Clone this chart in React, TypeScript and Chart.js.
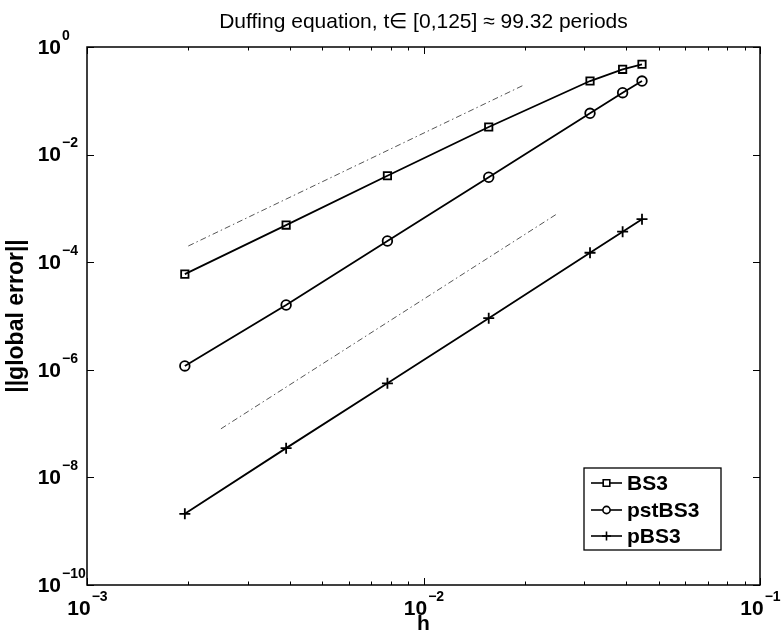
import { useEffect, useRef } from 'react';
import { Chart, registerables } from 'chart.js';

Chart.register(...registerables);

// ---- data ----
const stepSizes = [0.001953125, 0.00390625, 0.0078125, 0.015625, 0.03125, 0.0390625, 0.0446];
const bs3Errors = [6.0e-5, 4.9e-4, 4.05e-3, 3.26e-2, 0.233, 0.385, 0.477];
const pstBS3Errors = [1.18e-6, 1.6e-5, 2.48e-4, 3.79e-3, 5.86e-2, 0.1415, 0.233];
const pBS3Errors = [2.1e-9, 3.5e-8, 5.6e-7, 9.1e-6, 1.5e-4, 3.7e-4, 6.3e-4];
const refThirdH = [0.002, 0.02];
const refThirdErr = [2e-4, 0.2];
const refFourthH = [0.0025, 0.025];
const refFourthErr = [8e-8, 8e-4];
const seriesNames = ['BS3', 'pstBS3', 'pBS3'];
const xTickExponents = [-3, -2, -1];
const yTickExponents = [0, -2, -4, -6, -8, -10];
const titleText = 'Duffing equation, t\u2208 [0,125] \u2248 99.32 periods';
const xTitle = 'h';
const yTitle = '||global error||';

const FONT = '"Liberation Sans", Arial, Helvetica, sans-serif';

function pts(xs: number[], ys: number[]) {
  return xs.map((x, i) => ({ x, y: ys[i] }));
}

function expText(e: number) {
  return e < 0 ? '\u2212' + String(-e) : String(e);
}

function drawMarker(ctx: CanvasRenderingContext2D, style: string, x: number, y: number, s: number) {
  ctx.beginPath();
  if (style === 'rect') {
    ctx.rect(x - s, y - s, 2 * s, 2 * s);
  } else if (style === 'circle') {
    ctx.arc(x, y, s, 0, Math.PI * 2);
  } else {
    ctx.moveTo(x - s, y);
    ctx.lineTo(x + s, y);
    ctx.moveTo(x, y - s);
    ctx.lineTo(x, y + s);
  }
  ctx.stroke();
}

const matlabAxes = {
  id: 'matlabAxes',
  afterDraw(chart: any) {
    const ctx: CanvasRenderingContext2D = chart.ctx;
    const { left, right, top, bottom } = chart.chartArea;
    const xs = chart.scales.x;
    const ys = chart.scales.y;
    ctx.save();
    ctx.strokeStyle = '#000';
    ctx.fillStyle = '#000';
    ctx.lineWidth = 1.5;
    ctx.strokeRect(left, top, right - left, bottom - top);

    // x ticks (major + minor), inward on top & bottom
    ctx.lineWidth = 1;
    for (let d = xTickExponents[0]; d < xTickExponents[xTickExponents.length - 1] + 1; d++) {
      for (let m = 1; m <= 9; m++) {
        const v = m * Math.pow(10, d);
        if (v < xs.min * 0.999 || v > xs.max * 1.001) continue;
        const px = Math.round(xs.getPixelForValue(v)) + 0.5;
        const len = m === 1 ? 7 : 3.5;
        ctx.beginPath();
        ctx.moveTo(px, bottom);
        ctx.lineTo(px, bottom - len);
        ctx.moveTo(px, top);
        ctx.lineTo(px, top + len);
        ctx.stroke();
      }
    }
    // y ticks, inward left & right
    for (const e of yTickExponents) {
      const py = Math.round(ys.getPixelForValue(Math.pow(10, e))) + 0.5;
      ctx.beginPath();
      ctx.moveTo(left, py);
      ctx.lineTo(left + 7, py);
      ctx.moveTo(right, py);
      ctx.lineTo(right - 7, py);
      ctx.stroke();
    }

    const baseFont = 'bold 21px ' + FONT;
    const expFont = 'bold 14px ' + FONT;
    ctx.textBaseline = 'middle';
    // y tick labels
    for (const e of yTickExponents) {
      const py = ys.getPixelForValue(Math.pow(10, e));
      ctx.font = baseFont;
      ctx.textAlign = 'right';
      ctx.fillText('10', 61, py + 1);
      ctx.font = expFont;
      ctx.textAlign = 'left';
      ctx.fillText(expText(e), 62, py - 11);
    }
    // x tick labels
    for (const e of xTickExponents) {
      const px = xs.getPixelForValue(Math.pow(10, e));
      ctx.font = baseFont;
      const wb = ctx.measureText('10').width;
      ctx.font = expFont;
      const we = ctx.measureText(expText(e)).width;
      const start = px - (wb + we) / 2;
      ctx.font = baseFont;
      ctx.textAlign = 'left';
      ctx.fillText('10', start, bottom + 24);
      ctx.font = expFont;
      ctx.fillText(expText(e), start + wb + 1, bottom + 12);
    }

    // titles
    ctx.textAlign = 'center';
    ctx.font = '21px ' + FONT;
    ctx.fillText(titleText, (left + right) / 2, 22);
    ctx.font = 'bold 21px ' + FONT;
    ctx.fillText(xTitle, (left + right) / 2, 624);
    ctx.save();
    ctx.translate(17, (top + bottom) / 2);
    ctx.rotate(-Math.PI / 2);
    ctx.font = 'bold 23px ' + FONT;
    ctx.fillText(yTitle, 0, 0);
    ctx.restore();

    // legend
    const lx = 584, ly = 468, lw = 137, lh = 82;
    ctx.fillStyle = '#fff';
    ctx.fillRect(lx, ly, lw, lh);
    ctx.lineWidth = 1.3;
    ctx.strokeStyle = '#000';
    ctx.strokeRect(lx, ly, lw, lh);
    const rows = [483, 510, 536];
    const styles = ['rect', 'circle', 'cross'];
    const sizes = [3.3, 3.6, 4.5];
    ctx.fillStyle = '#000';
    ctx.font = 'bold 21px ' + FONT;
    ctx.textAlign = 'left';
    seriesNames.forEach((name, i) => {
      const y = rows[i];
      ctx.lineWidth = 1.6;
      ctx.beginPath();
      ctx.moveTo(591, y);
      ctx.lineTo(622, y);
      ctx.stroke();
      ctx.fillStyle = '#fff';
      if (styles[i] !== 'cross') {
        ctx.beginPath();
        if (styles[i] === 'rect') ctx.rect(606.5 - sizes[i], y - sizes[i], sizes[i] * 2, sizes[i] * 2);
        else ctx.arc(606.5, y, sizes[i], 0, Math.PI * 2);
        ctx.fill();
      }
      ctx.fillStyle = '#000';
      drawMarker(ctx, styles[i], 606.5, y, sizes[i]);
      ctx.fillText(name, 627, y + 1);
    });
    ctx.restore();
  },
};

export default function App() {
  const ref = useRef<HTMLCanvasElement | null>(null);
  useEffect(() => {
    if (!ref.current) return;
    const common = {
      showLine: true,
      borderColor: '#000',
      borderWidth: 1.8,
      pointBorderColor: '#000',
      pointBackgroundColor: 'rgba(0,0,0,0)',
      pointBorderWidth: 1.8,
      tension: 0,
    };
    const chart = new Chart(ref.current, {
      type: 'scatter',
      data: {
        datasets: [
          {
            label: 'ref3',
            data: pts(refThirdH, refThirdErr),
            showLine: true,
            borderColor: '#555',
            borderWidth: 1,
            borderDash: [6, 3, 1.5, 3],
            pointRadius: 0,
          },
          {
            label: 'ref4',
            data: pts(refFourthH, refFourthErr),
            showLine: true,
            borderColor: '#555',
            borderWidth: 1,
            borderDash: [6, 3, 1.5, 3],
            pointRadius: 0,
          },
          { ...common, label: seriesNames[0], data: pts(stepSizes, bs3Errors), pointStyle: 'rect', pointRadius: 5.2 },
          { ...common, label: seriesNames[1], data: pts(stepSizes, pstBS3Errors), pointStyle: 'circle', pointRadius: 4.8 },
          { ...common, label: seriesNames[2], data: pts(stepSizes, pBS3Errors), pointStyle: 'cross', pointRadius: 5.5 },
        ] as any,
      },
      options: {
        animation: false,
        responsive: true,
        maintainAspectRatio: false,
        layout: { padding: { left: 87, top: 47, right: 21, bottom: 49 } },
        plugins: { legend: { display: false }, tooltip: { enabled: false }, title: { display: false } },
        scales: {
          x: { type: 'logarithmic', min: 1e-3, max: 1e-1, display: false },
          y: { type: 'logarithmic', min: 1e-10, max: 1, display: false },
        },
      },
      plugins: [matlabAxes],
    });
    return () => chart.destroy();
  }, []);
  return (
    <div style={{ position: 'absolute', left: 0, top: 0, width: 781, height: 634, background: '#fff' }}>
      <canvas ref={ref} />
    </div>
  );
}
